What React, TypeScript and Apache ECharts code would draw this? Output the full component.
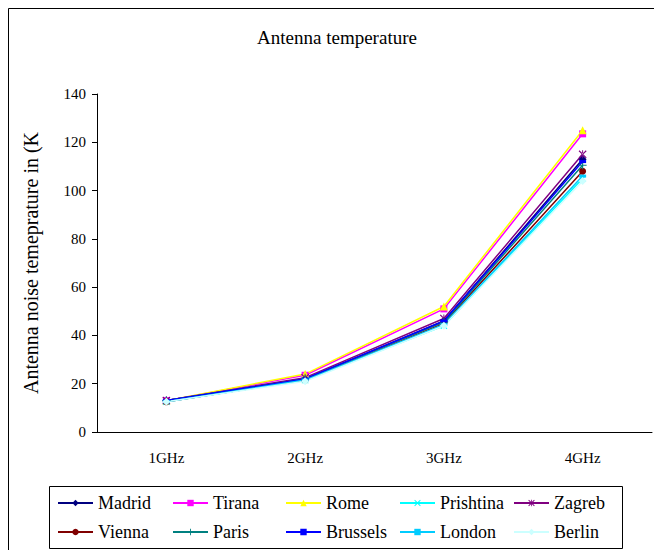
import React, { useEffect, useRef } from "react";
import * as echarts from "echarts";

const categories = ["1GHz", "2GHz", "3GHz", "4GHz"];
const madrid = [13, 22, 46, 113];
const tirana = [13, 23.5, 51, 123.5];
const rome = [13, 24, 52, 125];
const prishtina = [12.5, 21.5, 44, 105];
const zagreb = [13, 22.5, 47, 115];
const vienna = [12.5, 21.5, 45, 108];
const paris = [13, 22, 45.5, 110.5];
const brussels = [13, 22, 46, 112];
const london = [12.5, 21.5, 44.5, 106];
const berlin = [12.5, 21, 44, 104];
const yTicks = { min: 0, max: 140, interval: 20 };

const FONT = "Liberation Serif";

const X_PATH = "path://M1,0 L5,4 L9,0 L10,1 L6,5 L10,9 L9,10 L5,6 L1,10 L0,9 L4,5 L0,1 Z";
const STAR_PATH =
  "path://M1,0 L5,4 L9,0 L10,1 L6,5 L10,9 L9,10 L5,6 L1,10 L0,9 L4,5 L0,1 Z M4.4,0 L4.4,10 L5.6,10 L5.6,0 Z";
const PLUS_PATH = "path://M4.3,0 H5.7 V4.3 H10 V5.7 H5.7 V10 H4.3 V5.7 H0 V4.3 H4.3 Z";

const seriesDefs = [
  { name: "Madrid", data: madrid, color: "#000080", symbol: "diamond", size: 8 },
  { name: "Tirana", data: tirana, color: "#FF00FF", symbol: "rect", size: 7 },
  { name: "Rome", data: rome, color: "#FFFF00", symbol: "triangle", size: 8 },
  { name: "Prishtina", data: prishtina, color: "#00FFFF", symbol: X_PATH, size: 7 },
  { name: "Zagreb", data: zagreb, color: "#800080", symbol: STAR_PATH, size: 8 },
  { name: "Vienna", data: vienna, color: "#800000", symbol: "circle", size: 7 },
  { name: "Paris", data: paris, color: "#008080", symbol: PLUS_PATH, size: 8 },
  { name: "Brussels", data: brussels, color: "#0000FF", symbol: "rect", size: [7, 3] },
  { name: "London", data: london, color: "#00CCFF", symbol: "rect", size: [7, 3] },
  { name: "Berlin", data: berlin, color: "#CCFFFF", symbol: "diamond", size: 8 },
];

const legendColumnsX = [57, 172, 285, 399, 513];

export default function App() {
  const ref = useRef<HTMLDivElement>(null);
  useEffect(() => {
    if (!ref.current) return;
    const chart = echarts.init(ref.current, null, { renderer: "svg" });
    const legends = legendColumnsX.map((x, i) => ({
      orient: "vertical",
      left: x,
      top: 494,
      padding: 0,
      itemWidth: 35,
      itemHeight: 8,
      itemGap: 11,
      formatter: "{t|{name}}",
      textStyle: {
        fontFamily: FONT,
        fontSize: 18,
        color: "#000",
        lineHeight: 18,
        rich: {
          t: { fontFamily: FONT, fontSize: 18, color: "#000", lineHeight: 18 },
        },
      },
      data: [seriesDefs[i].name, seriesDefs[i + 5].name],
    }));
    chart.setOption({
      animation: false,
      backgroundColor: "#ffffff",
      textStyle: { fontFamily: FONT, color: "#000" },
      graphic: [
        {
          type: "rect",
          z: -10,
          shape: { x: 8.5, y: 8.5, width: 700, height: 600 },
          style: { fill: "none", stroke: "#000", lineWidth: 1 },
        },
        {
          type: "rect",
          z: -10,
          shape: { x: 49.5, y: 486.5, width: 573, height: 62 },
          style: { fill: "none", stroke: "#000", lineWidth: 1 },
        },
        {
          type: "text",
          x: 337,
          y: 37,
          style: {
            text: "Antenna temperature",
            font: `19px ${FONT}`,
            fill: "#000",
            textAlign: "center",
            textVerticalAlign: "middle",
          },
        },
      ],
      grid: { left: 97, right: 2, top: 94, bottom: 118, containLabel: false },
      legend: legends,
      xAxis: {
        type: "category",
        data: categories,
        boundaryGap: true,
        axisLine: { lineStyle: { color: "#000", width: 1 } },
        axisTick: { length: 5, lineStyle: { color: "#000" } },
        axisLabel: { fontFamily: FONT, fontSize: 15, color: "#000", margin: 18 },
        splitLine: { show: false },
      },
      yAxis: {
        type: "value",
        min: yTicks.min,
        max: yTicks.max,
        interval: yTicks.interval,
        name: "Antenna noise temeprature in (K",
        nameLocation: "middle",
        nameRotate: 90,
        nameGap: 56,
        nameTextStyle: { fontFamily: FONT, fontSize: 20, color: "#000" },
        axisLine: { show: true, lineStyle: { color: "#000", width: 1 } },
        axisTick: { show: true, length: 5, lineStyle: { color: "#000" } },
        axisLabel: { fontFamily: FONT, fontSize: 15, color: "#000", margin: 11 },
        splitLine: { show: false },
      },
      series: seriesDefs.map((s) => ({
        name: s.name,
        type: "line",
        data: s.data,
        symbol: s.symbol,
        symbolSize: s.size,
        showSymbol: true,
        lineStyle: { color: s.color, width: 1.5 },
        itemStyle: { color: s.color, borderColor: s.color, borderWidth: 0 },
      })),
    });
    return () => chart.dispose();
  }, []);
  return (
    <div
      ref={ref}
      style={{ position: "fixed", left: 0, top: 0, width: 654, height: 550 }}
    />
  );
}
